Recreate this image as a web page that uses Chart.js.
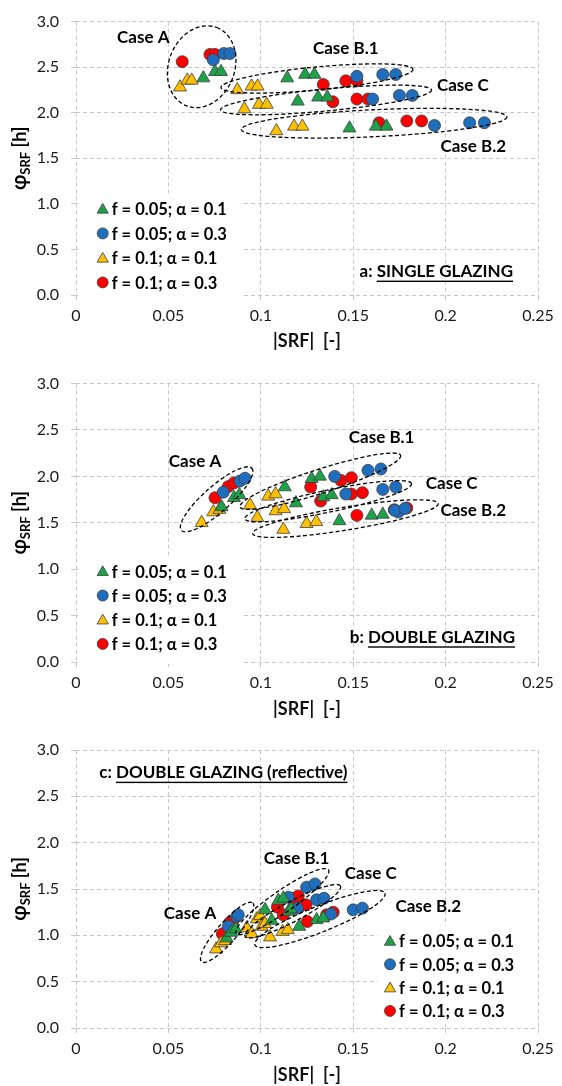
<!DOCTYPE html>
<html>
<head>
<meta charset="utf-8">
<script src="https://cdn.jsdelivr.net/npm/chart.js@4.4.1/dist/chart.umd.min.js"></script>
<style>
  body { margin: 0; background: #fff; }
  .box { position: absolute; left: 0; width: 562px; height: 362px; }
</style>
</head>
<body>
<div class="box" style="top:0px"><canvas id="chartA"></canvas></div>
<div class="box" style="top:362px"><canvas id="chartB"></canvas></div>
<div class="box" style="top:724px"><canvas id="chartC"></canvas></div>
<script>
// series names (legend)
const seriesLabels = ['f = 0.05; \u03b1 = 0.1', 'f = 0.05; \u03b1 = 0.3', 'f = 0.1; \u03b1 = 0.1', 'f = 0.1; \u03b1 = 0.3'];
const caseNames = ['Case A', 'Case B.1', 'Case C', 'Case B.2'];
const xTicks = [0, 0.05, 0.1, 0.15, 0.2, 0.25];
const yTicks = [0, 0.5, 1, 1.5, 2, 2.5, 3];

// a: single glazing  [|SRF|, phi]  (order: A, B.1, C, B.2 - three each)
const single_f005_a01 = [[0.0689,2.38],[0.0752,2.45],[0.0785,2.45],[0.1143,2.38],[0.124,2.42],[0.129,2.42],[0.120,2.125],[0.131,2.17],[0.136,2.17],[0.148,1.83],[0.1623,1.85],[0.168,1.85]];
const single_f005_a03 = [[0.0743,2.58],[0.080,2.65],[0.0833,2.65],[0.152,2.40],[0.166,2.42],[0.173,2.42],[0.1605,2.15],[0.175,2.19],[0.182,2.19],[0.194,1.86],[0.213,1.89],[0.221,1.89]];
const single_f01_a01 = [[0.0563,2.28],[0.0602,2.355],[0.0626,2.355],[0.0873,2.25],[0.095,2.29],[0.0983,2.29],[0.0911,2.04],[0.099,2.09],[0.1032,2.09],[0.1084,1.80],[0.118,1.85],[0.1225,1.85]];
const single_f01_a03 = [[0.0575,2.56],[0.0725,2.64],[0.0752,2.64],[0.1338,2.31],[0.146,2.35],[0.152,2.35],[0.139,2.12],[0.152,2.15],[0.158,2.15],[0.164,1.89],[0.179,1.91],[0.187,1.91]];

// b: double glazing
const double_f005_a01 = [[0.0788,1.67],[0.0855,1.77],[0.0884,1.80],[0.113,1.885],[0.1275,1.975],[0.132,2.0],[0.119,1.713],[0.1338,1.777],[0.1384,1.80],[0.1425,1.52],[0.160,1.58],[0.166,1.59]];
const double_f005_a03 = [[0.0797,1.83],[0.0887,1.95],[0.0915,1.98],[0.140,2.0],[0.158,2.065],[0.165,2.08],[0.146,1.81],[0.166,1.86],[0.173,1.885],[0.1744,1.616],[0.1725,1.635],[0.178,1.655]];
const double_f01_a01 = [[0.068,1.50],[0.0743,1.616],[0.0776,1.642],[0.0942,1.69],[0.104,1.785],[0.108,1.81],[0.0981,1.556],[0.108,1.627],[0.1126,1.65],[0.1122,1.427],[0.1248,1.49],[0.130,1.51]];
const double_f01_a03 = [[0.0752,1.77],[0.0824,1.89],[0.0855,1.93],[0.127,1.885],[0.1434,1.957],[0.149,1.986],[0.1324,1.734],[0.149,1.81],[0.155,1.825],[0.152,1.58],[0.1722,1.64],[0.179,1.66]];

// c: double glazing (reflective)
const refl_f005_a01 = [[0.0815,0.97],[0.084,1.03],[0.0864,1.067],[0.1023,1.275],[0.1095,1.375],[0.1122,1.40],[0.1059,1.16],[0.1149,1.257],[0.1163,1.282],[0.1208,1.095],[0.1302,1.167],[0.1338,1.185]];
const refl_f005_a03 = [[0.0824,1.095],[0.087,1.203],[0.0878,1.221],[0.1149,1.41],[0.1248,1.52],[0.1293,1.555],[0.1198,1.293],[0.1302,1.383],[0.1342,1.40],[0.138,1.23],[0.150,1.275],[0.155,1.293]];
const refl_f01_a01 = [[0.0758,0.851],[0.0785,0.916],[0.0806,0.94],[0.0924,1.078],[0.0978,1.175],[0.0996,1.21],[0.0951,1.016],[0.1005,1.095],[0.1023,1.124],[0.105,0.98],[0.1118,1.04],[0.1146,1.059]];
const refl_f01_a03 = [[0.0792,1.016],[0.0833,1.138],[0.0848,1.149],[0.109,1.304],[0.1167,1.40],[0.1203,1.425],[0.1122,1.221],[0.1208,1.304],[0.1245,1.329],[0.1252,1.149],[0.1356,1.221],[0.1392,1.25]];

const FONT = 'Lato';
const markerStyles = [
  { pointStyle: 'triangle', bg: '#1DA24A', r: 7.5 },
  { pointStyle: 'circle', bg: '#1F6EBE', r: 6 },
  { pointStyle: 'triangle', bg: '#FFC000', r: 7.5 },
  { pointStyle: 'circle', bg: '#FF0000', r: 6 }
];

// draws the dashed case ellipses, case labels, legend, panel title, y title
const overlay = {
  id: 'overlay',
  afterDatasetsDraw(chart, args, o) {
    const { ctx, chartArea: a, scales: { x, y } } = chart;
    ctx.save();
    // ellipses (centre in data units, radii in px)
    ctx.strokeStyle = '#000';
    ctx.lineWidth = 1.3;
    ctx.setLineDash([4, 2.5]);
    o.ellipses.forEach(e => {
      ctx.beginPath();
      ctx.ellipse(x.getPixelForValue(e.x), y.getPixelForValue(e.y), e.a, e.b, e.rot * Math.PI / 180, 0, 2 * Math.PI);
      ctx.stroke();
    });
    ctx.setLineDash([]);

    ctx.fillStyle = '#000';
    ctx.font = 'bold 17px ' + FONT;
    ctx.textAlign = 'center';
    ctx.textBaseline = 'middle';
    o.caseLabels.forEach((p, i) => {
      ctx.fillText(caseNames[i], x.getPixelForValue(p[0]), y.getPixelForValue(p[1]));
    });

    // legend
    const L = o.legend;
    const lx = a.left + L.dx, ly = a.top + L.dy;
    ctx.fillStyle = '#fff';
    ctx.fillRect(a.left + L.box[0], a.top + L.box[1], L.box[2], L.box[3]);
    chart.data.datasets.forEach((ds, i) => {
      const yy = ly + i * L.step;
      ctx.fillStyle = ds.backgroundColor;
      ctx.strokeStyle = ds.borderColor;
      ctx.lineWidth = 0.8;
      const r = ds.pointStyle === 'triangle' ? 6.5 : 5.5;
      Chart.helpers.drawPoint(ctx, { pointStyle: ds.pointStyle, radius: r, rotation: 0, borderWidth: 0.8 }, lx, yy + (ds.pointStyle === 'triangle' ? 1 : 0));
      ctx.fillStyle = '#000';
      ctx.font = 'bold 16.5px ' + FONT;
      ctx.textAlign = 'left';
      ctx.fillText(ds.label, lx + 9, yy + 1);
    });

    // panel title with underline
    const T = o.title;
    ctx.font = 'bold 17px ' + FONT;
    const w1 = ctx.measureText(T.prefix).width, w2 = ctx.measureText(T.main).width;
    let tx = T.align === 'right' ? a.right - T.dx - w1 - w2 : a.left + T.dx;
    const ty = a.top + T.dy;
    ctx.fillStyle = '#000';
    ctx.textAlign = 'left';
    ctx.fillText(T.prefix, tx, ty);
    ctx.fillText(T.main, tx + w1, ty);
    ctx.fillRect(tx + w1, ty + 9, w2, 1.4);

    // y-axis title: phi_SRF [h]
    ctx.translate(20, (a.top + a.bottom) / 2);
    ctx.rotate(-Math.PI / 2);
    ctx.font = 'bold 20px ' + FONT;
    const p1 = ctx.measureText('\u03c6').width;
    ctx.font = 'bold 13px ' + FONT;
    const p2 = ctx.measureText('SRF').width;
    ctx.font = 'bold 18px ' + FONT;
    const p3 = ctx.measureText(' [h]').width;
    let sx = -(p1 + p2 + p3) / 2;
    ctx.textAlign = 'left';
    ctx.font = 'bold 20px ' + FONT;
    ctx.fillText('\u03c6', sx, 0);
    ctx.font = 'bold 13px ' + FONT;
    ctx.fillText('SRF', sx + p1, 6);
    ctx.font = 'bold 18px ' + FONT;
    ctx.fillText(' [h]', sx + p1 + p2, 0);
    ctx.restore();
  }
};

function makeChart(id, series, cfg) {
  const datasets = series.map((pts, i) => ({
    label: seriesLabels[i],
    data: pts.map(p => ({ x: p[0], y: p[1] })),
    pointStyle: markerStyles[i].pointStyle,
    backgroundColor: markerStyles[i].bg,
    borderColor: '#3c3c3c',
    borderWidth: 0.8,
    pointRadius: markerStyles[i].r,
    pointHoverRadius: markerStyles[i].r,
    showLine: false
  }));
  const gridCol = '#c8c8c8';
  return new Chart(document.getElementById(id), {
    type: 'scatter',
    data: { datasets },
    options: {
      responsive: true,
      maintainAspectRatio: false,
      animation: false,
      layout: { padding: { top: cfg.padTop, right: 24, bottom: 0, left: 0 } },
      plugins: { legend: { display: false }, tooltip: { enabled: false }, overlay: cfg.overlay },
      scales: {
        x: {
          type: 'linear', min: 0, max: 0.25,
          afterBuildTicks: s => { s.ticks = xTicks.map(v => ({ value: v })); },
          ticks: { font: { family: FONT, size: 16 }, color: '#1a1a1a', padding: 6,
                   callback: v => String(+v.toFixed(2)) },
          grid: { color: gridCol, tickLength: 5, tickColor: gridCol },
          border: { display: false, dash: [4, 3] },
          title: { display: true, text: '|SRF|  [-]', color: '#111',
                   font: { family: FONT, size: 18, weight: 'bold' }, padding: { top: 0, bottom: cfg.titlePad } },
          afterFit: s => { s.height = cfg.xHeight; }
        },
        y: {
          type: 'linear', min: 0, max: 3,
          afterBuildTicks: s => { s.ticks = yTicks.map(v => ({ value: v })); },
          ticks: { font: { family: FONT, size: 16 }, color: '#1a1a1a', padding: 12,
                   callback: v => v.toFixed(1) },
          grid: { color: gridCol, tickLength: 5, tickColor: gridCol },
          border: { display: false, dash: [4, 3] },
          afterFit: s => { s.width = 76; }
        }
      }
    },
    plugins: [overlay]
  });
}

makeChart('chartA', [single_f005_a01, single_f005_a03, single_f01_a01, single_f01_a03], {
  padTop: 16, xHeight: 67, titlePad: 10,
  overlay: {
    ellipses: [
      { x: 0.068, y: 2.505, a: 42, b: 33, rot: -69 },
      { x: 0.1304, y: 2.376, a: 96.5, b: 11.5, rot: -5.4 },
      { x: 0.1353, y: 2.14, a: 106, b: 11, rot: -5.4 },
      { x: 0.1613, y: 1.885, a: 133, b: 13.5, rot: -2.7 }
    ],
    caseLabels: [[0.0364, 2.83], [0.146, 2.71], [0.2093, 2.30], [0.215, 1.63]],
    legend: { dx: 26.7, dy: 187.3, step: 24.5, box: [2, 172, 165, 108] },
    title: { prefix: 'a: ', main: 'SINGLE GLAZING', align: 'right', dx: 25, dy: 250 }
  }
});

makeChart('chartB', [double_f005_a01, double_f005_a03, double_f01_a01, double_f01_a03], {
  padTop: 21, xHeight: 62, titlePad: 4,
  overlay: {
    ellipses: [
      { x: 0.0761, y: 1.753, a: 47, b: 13, rot: -41.4 },
      { x: 0.1322, y: 1.948, a: 84.4, b: 12, rot: -17.8 },
      { x: 0.1365, y: 1.733, a: 85.2, b: 11, rot: -11.9 },
      { x: 0.1458, y: 1.545, a: 94, b: 11.5, rot: -9.2 }
    ],
    caseLabels: [[0.0644, 2.165], [0.1654, 2.416], [0.2033, 1.928], [0.215, 1.627]],
    legend: { dx: 26.7, dy: 187.7, step: 24.2, box: [2, 172, 165, 108] },
    title: { prefix: 'b: ', main: 'DOUBLE GLAZING', align: 'right', dx: 23, dy: 253.7 }
  }
});

makeChart('chartC', [refl_f005_a01, refl_f005_a03, refl_f01_a01, refl_f01_a03], {
  padTop: 26, xHeight: 58, titlePad: 0,
  overlay: {
    ellipses: [
      { x: 0.0818, y: 1.032, a: 39, b: 10, rot: -48.9 },
      { x: 0.1117, y: 1.364, a: 56, b: 11, rot: -34.6 },
      { x: 0.1173, y: 1.26, a: 54, b: 10, rot: -27.9 },
      { x: 0.132, y: 1.176, a: 70, b: 13, rot: -21.7 }
    ],
    caseLabels: [[0.0617, 1.239], [0.1194, 1.832], [0.1595, 1.670], [0.1906, 1.31]],
    legend: { dx: 314, dy: 191, step: 23.3, box: [302, 176, 158, 98] },
    title: { prefix: 'c: ', main: 'DOUBLE GLAZING (reflective)', align: 'left', dx: 23.3, dy: 22.7 }
  }
});
</script>
</body>
</html>
